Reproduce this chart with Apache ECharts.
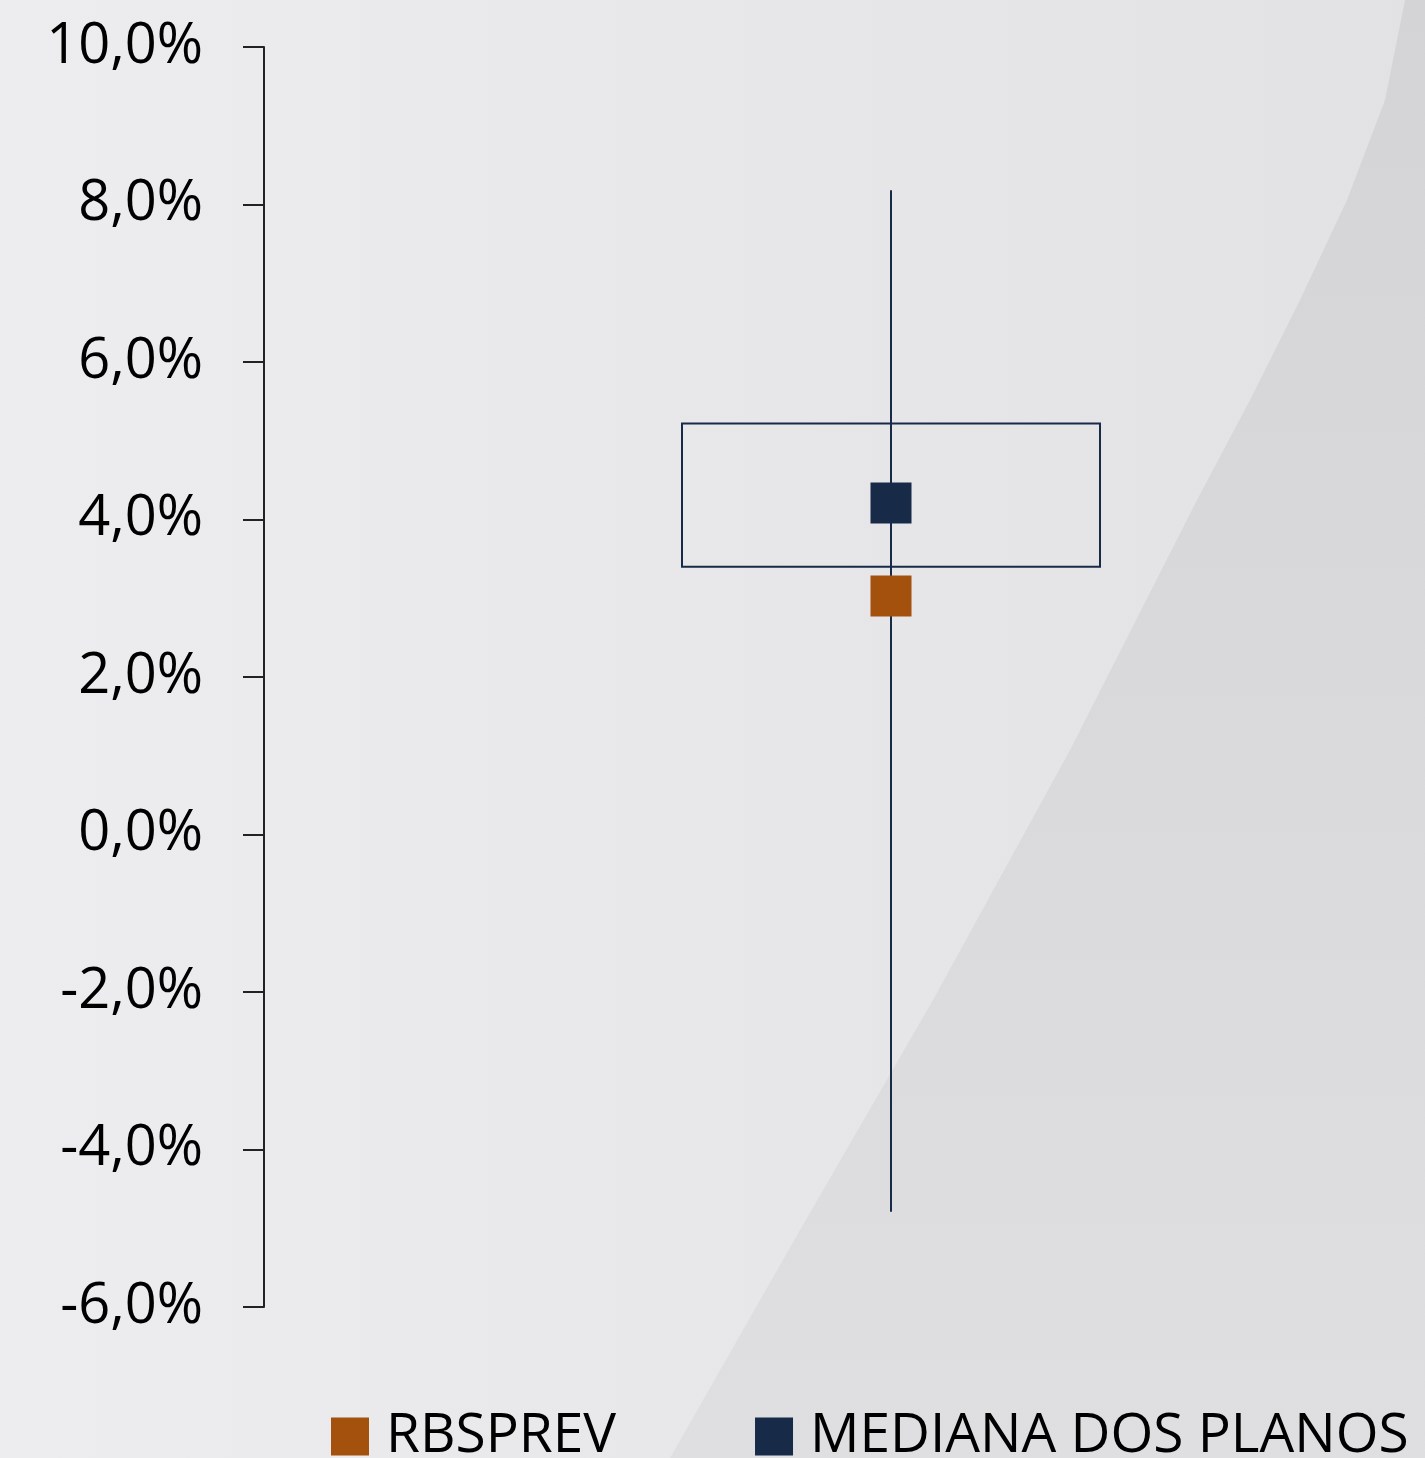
<!DOCTYPE html>
<html>
<head>
<meta charset="utf-8">
<style>
  html, body { margin: 0; padding: 0; }
  #main { width: 1425px; height: 1458px; }
</style>
<script src="https://cdn.jsdelivr.net/npm/echarts@6/dist/echarts.min.js"></script>
</head>
<body>
<div id="main"></div>
<script>
// valores (em %)
var categorias = [''];
var minimo = [-4.79];
var quartil1 = [3.40];
var quartil3 = [5.22];
var maximo = [8.18];
var rbsprev = [3.03];
var mediana = [4.21];
var yTicks = { min: -6, max: 10, interval: 2 };

var chart = echarts.init(document.getElementById('main'));
var fonte = '"Open Sans", "Noto Sans", sans-serif';
var azul = '#172B48';
var laranja = '#A4510E';

var boxData = categorias.map(function (c, i) {
  return [i, minimo[i], quartil1[i], quartil3[i], maximo[i]];
});

var option = {
  backgroundColor: {
    type: 'linear', x: 0, y: 0, x2: 1, y2: 0,
    colorStops: [
      { offset: 0, color: '#EDEDEF' },
      { offset: 1, color: '#E2E2E4' }
    ]
  },
  // faixa diagonal mais escura do fundo
  graphic: [{
    type: 'polygon',
    z: -10,
    silent: true,
    shape: {
      points: [[1405, 0], [1425, 0], [1425, 1458], [670, 1458], [800, 1230],
        [933, 1000], [1070, 750], [1197, 500], [1250, 400], [1300, 300],
        [1347, 200], [1385, 100]]
    },
    style: {
      fill: {
        type: 'linear', x: 0, y: 0, x2: 0, y2: 1,
        colorStops: [
          { offset: 0, color: '#D4D4D6' },
          { offset: 1, color: '#DFDFE1' }
        ]
      }
    }
  }],
  legend: {
    data: ['RBSPREV', 'MEDIANA DOS PLANOS'],
    left: 331,
    top: 1409,
    padding: 0,
    icon: 'rect',
    itemWidth: 38,
    itemHeight: 38,
    itemGap: 139,
    textStyle: { fontFamily: fonte, fontSize: 55, color: '#000', padding: [0, 0, 0, 12] }
  },
  grid: { left: 264, top: 47, bottom: 151, width: 1254, outerBoundsMode: 'none' },
  xAxis: {
    type: 'category',
    data: categorias,
    show: false
  },
  yAxis: {
    type: 'value',
    min: yTicks.min,
    max: yTicks.max,
    interval: yTicks.interval,
    axisLine: { show: true, lineStyle: { color: '#222', width: 2 } },
    axisTick: { show: true, length: 21, lineStyle: { color: '#222', width: 2 } },
    splitLine: { show: false },
    axisLabel: {
      margin: 61,
      fontFamily: fonte,
      fontSize: 56,
      color: '#000',
      formatter: function (v) { return v.toFixed(1).replace('.', ',') + '%'; }
    }
  },
  series: [
    {
      type: 'custom',
      name: 'caixa',
      data: boxData,
      z: 1,
      renderItem: function (params, api) {
        var i = api.value(0);
        var pLow = api.coord([i, api.value(1)]);
        var pQ1 = api.coord([i, api.value(2)]);
        var pQ3 = api.coord([i, api.value(3)]);
        var pHigh = api.coord([i, api.value(4)]);
        var w = api.size([1, 0])[0] / 3;
        var estilo = { stroke: azul, lineWidth: 2, fill: null };
        return {
          type: 'group',
          children: [
            { type: 'line', shape: { x1: pHigh[0], y1: pHigh[1], x2: pLow[0], y2: pLow[1] }, style: estilo },
            { type: 'rect', shape: { x: pQ3[0] - w / 2, y: pQ3[1], width: w, height: pQ1[1] - pQ3[1] }, style: estilo }
          ]
        };
      }
    },
    {
      type: 'scatter',
      name: 'RBSPREV',
      data: rbsprev,
      symbol: 'rect',
      symbolSize: 41,
      itemStyle: { color: laranja, opacity: 1 },
      z: 3
    },
    {
      type: 'scatter',
      name: 'MEDIANA DOS PLANOS',
      data: mediana,
      symbol: 'rect',
      symbolSize: 41,
      itemStyle: { color: azul, opacity: 1 },
      z: 3
    }
  ]
};

chart.setOption(option);
</script>
</body>
</html>
